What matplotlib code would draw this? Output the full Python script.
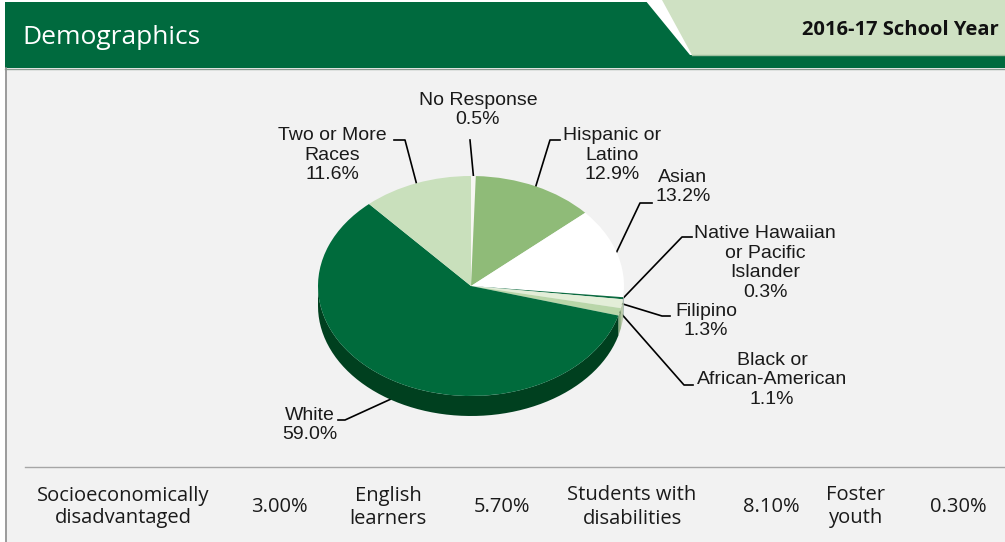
import numpy as np
import matplotlib.pyplot as plt
from matplotlib.patches import Polygon, Rectangle

# pie data, clockwise from the top
groups = ["No Response", "Hispanic or Latino", "Asian", "Native Hawaiian or Pacific Islander",
          "Filipino", "Black or African-American", "White", "Two or More Races"]
label_text = ["No Response", "Hispanic or\nLatino", "Asian", "Native Hawaiian\nor Pacific\nIslander",
              "Filipino", "Black or\nAfrican-American", "White", "Two or More\nRaces"]
shares = [0.5, 12.9, 13.2, 0.3, 1.3, 1.1, 59.0, 11.6]
top_colors = ["#f7f7f2", "#8fbb78", "#ffffff", "#0b6b40", "#e3eed8", "#b9d6a9", "#006b3c", "#c9e0bc"]
side_colors = ["#d8d8d0", "#6f9a5c", "#d6d6d6", "#004a27", "#b8c9a8", "#8fae80", "#00401f", "#a3bf95"]

# bottom row
stat_names = ["Socioeconomically\ndisadvantaged", "English\nlearners", "Students with\ndisabilities", "Foster\nyouth"]
stat_values = [3.00, 5.70, 8.10, 0.30]

W, H = 1005, 542
fig = plt.figure(figsize=(W / 100, H / 100), dpi=100)
fig.patch.set_facecolor("white")

# background axes in pixel coordinates
bg = fig.add_axes([0, 0, 1, 1])
bg.set_xlim(0, W)
bg.set_ylim(H, 0)
bg.axis("off")

bg.add_patch(Rectangle((5, 68), W - 5, H - 68, facecolor="#f2f2f2", edgecolor="none"))
bg.plot([6, 6], [68, H], color="#8c8c8c", lw=1.2)
bg.add_patch(Rectangle((5, 2), W - 5, 66, facecolor="#006a3e", edgecolor="none"))
bg.add_patch(Polygon([(645, 0), (664, 0), (693, 55), (690, 55)], facecolor="white", edgecolor="none"))
bg.add_patch(Polygon([(662, 0), (W, 0), (W, 55), (692, 55)], facecolor="#cfe1c3", edgecolor="none"))
bg.plot([692, W], [55, 55], color="#9fbf9f", lw=1)
bg.plot([5, W], [68.5, 68.5], color="#8c9c92", lw=1)

bg.text(22, 38, "Demographics", color="white", fontsize=19, family="Open Sans",
        va="center", ha="left")
bg.text(999, 30, "2016-17 School Year", color="#111111", fontsize=14.5, family="Open Sans",
        fontweight="bold", va="center", ha="right")

# separator above bottom row
bg.plot([25, W], [466.5, 466.5], color="#a6a6a6", lw=1)

name_x = [123, 388, 632, 856]
value_x = [279, 502, 771, 958]
for nm, v, nx_, vx in zip(stat_names, stat_values, name_x, value_x):
    bg.text(nx_, 507, nm, fontsize=14.5, family="Open Sans", color="#1a1a1a",
            ha="center", va="center", linespacing=1.2)
    bg.text(vx, 507, f"{v:.2f}%", fontsize=14.5, family="Open Sans", color="#1a1a1a",
            ha="center", va="center")

# pie geometry in pixels
cx, cy, rx, ry, depth = 471, 286, 153, 110, 20
d = depth / ry

pax = fig.add_axes([(cx - rx) / W, (H - (cy + ry + depth)) / H, 2 * rx / W, (2 * ry + depth) / H])
pax.set_zorder(2)

# side of the pie (front half only)
fracs = np.array(shares) / sum(shares)
edges = 90 - 360 * np.concatenate([[0], np.cumsum(fracs)])
for i in range(len(shares)):
    a1, a2 = edges[i + 1], edges[i]
    for base in (0, -360):
        s, e = max(a1, -180 + base), min(a2, 0 + base)
        if s < e:
            t = np.radians(np.linspace(s, e, 60))
            xs, ys = np.cos(t), np.sin(t)
            pts = list(zip(xs, ys)) + list(zip(xs[::-1], ys[::-1] - d))
            pax.add_patch(Polygon(pts, facecolor=side_colors[i], edgecolor="none"))

wedges, _ = pax.pie(shares, colors=top_colors, startangle=90, counterclock=False,
                    wedgeprops=dict(linewidth=0))
pax.set_aspect("auto")
pax.set_xlim(-1, 1)
pax.set_ylim(-1 - d, 1)
pax.axis("off")

# labels with leader lines (text position, elbow position)
label_pos = [(478, 110), (612, 155), (683, 187), (765, 263), (706, 321), (772, 380), (310, 425), (332, 155)]
elbows = [(470, 140), (550, 140), (640, 203), (682, 237), (662, 316), (684, 385), (345, 420), (405, 140)]
ends = [(470, 140), (560, 140), (652, 203), (692, 237), (670, 316), (693, 385), (338, 420), (394, 140)]
for i, w in enumerate(wedges):
    mid = np.radians((w.theta1 + w.theta2) / 2)
    ax_ = cx + rx * np.cos(mid)
    ay_ = cy - ry * np.sin(mid)
    if groups[i] == "White":
        ay_ += depth
    bg.plot([ax_, elbows[i][0], ends[i][0]], [ay_, elbows[i][1], ends[i][1]],
            color="black", lw=1.2, zorder=3)
    bg.text(label_pos[i][0], label_pos[i][1], f"{label_text[i]}\n{shares[i]:.1f}%",
            fontsize=14, family="Liberation Sans", color="#1a1a1a",
            ha="center", va="center", linespacing=1.22, zorder=4)

fig.savefig("out.png", dpi=100)
